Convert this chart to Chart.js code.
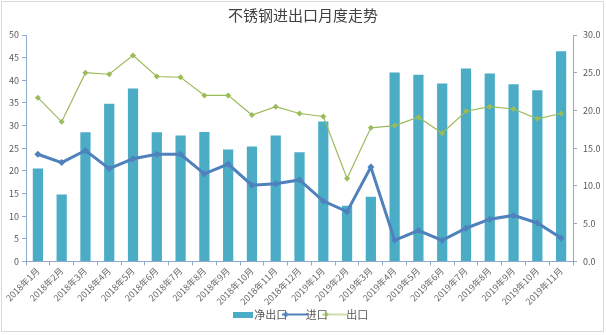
<!DOCTYPE html>
<html>
<head>
<meta charset="utf-8">
<script src="https://cdn.jsdelivr.net/npm/chart.js@4/dist/chart.umd.min.js"></script>
<style>
  html, body { margin: 0; padding: 0; background: #fff; }
  #wrap { position: relative; width: 606px; height: 335px; }
  #frame { position: absolute; left: 1px; top: 1px; width: 601px; height: 329px; border: 1px solid #d9d9d9; pointer-events: none; }
</style>
</head>
<body>
<div id="wrap">
  <canvas id="chart" width="606" height="335"></canvas>
  <div id="frame"></div>
</div>
<script>
// months on the x axis
const months = [
  "2018年1月", "2018年2月", "2018年3月", "2018年4月", "2018年5月", "2018年6月",
  "2018年7月", "2018年8月", "2018年9月", "2018年10月", "2018年11月", "2018年12月",
  "2019年1月", "2019年2月", "2019年3月", "2019年4月", "2019年5月", "2019年6月",
  "2019年7月", "2019年8月", "2019年9月", "2019年10月", "2019年11月"
];

// net export (left axis)
const netExport = [20.5, 14.8, 28.5, 34.8, 38.2, 28.5, 27.8, 28.6, 24.7, 25.4, 27.8, 24.1,
  30.9, 12.3, 14.3, 41.7, 41.2, 39.3, 42.6, 41.5, 39.1, 37.8, 46.4];

// import and export (right axis)
const imports = [14.2, 13.1, 14.7, 12.3, 13.6, 14.2, 14.2, 11.6, 12.9, 10.1, 10.3, 10.8,
  8.0, 6.6, 12.5, 2.8, 4.1, 2.8, 4.4, 5.6, 6.1, 5.1, 3.1];
const exports = [21.7, 18.5, 25.0, 24.8, 27.3, 24.5, 24.4, 22.0, 22.0, 19.4, 20.5, 19.6,
  19.2, 11.0, 17.7, 18.0, 19.1, 17.0, 19.9, 20.5, 20.2, 18.9, 19.6];

const leftTicks = [0, 5, 10, 15, 20, 25, 30, 35, 40, 45, 50];
const rightTicks = [0, 5, 10, 15, 20, 25, 30];

const barColor = "#4bacc6";
const importColor = "#4f81bd";
const exportColor = "#9bbb59";
const axisColor = "#8faacc";
const textColor = "#595959";
const font = "'Noto Sans CJK SC', 'Noto Sans', sans-serif";

// legend swatch: short line with a diamond on it
function lineSwatch(color, lw, size) {
  const c = document.createElement("canvas");
  c.width = 26; c.height = 10;
  const ctx = c.getContext("2d");
  ctx.strokeStyle = color;
  ctx.lineWidth = lw;
  ctx.beginPath(); ctx.moveTo(0, 5); ctx.lineTo(26, 5); ctx.stroke();
  ctx.fillStyle = color;
  ctx.beginPath();
  ctx.moveTo(4, 5 - size); ctx.lineTo(4 + size, 5); ctx.lineTo(4, 5 + size); ctx.lineTo(4 - size, 5);
  ctx.closePath(); ctx.fill();
  return c;
}
function barSwatch(color) {
  const c = document.createElement("canvas");
  c.width = 20; c.height = 6;
  const ctx = c.getContext("2d");
  ctx.fillStyle = color;
  ctx.fillRect(0, 0, 20, 6);
  return c;
}
const swatches = [barSwatch(barColor), lineSwatch(importColor, 2, 3), lineSwatch(exportColor, 1, 2.5)];

new Chart(document.getElementById("chart"), {
  type: "bar",
  data: {
    labels: months,
    datasets: [
      {
        label: "净出口",
        data: netExport,
        backgroundColor: barColor,
        yAxisID: "y",
        categoryPercentage: 1,
        barPercentage: 0.43,
        order: 3
      },
      {
        type: "line",
        label: "进口",
        data: imports,
        borderColor: importColor,
        backgroundColor: importColor,
        borderWidth: 3,
        pointStyle: "rectRot",
        pointRadius: 3.5,
        pointBorderWidth: 0,
        yAxisID: "y1",
        tension: 0,
        order: 1
      },
      {
        type: "line",
        label: "出口",
        data: exports,
        borderColor: exportColor,
        backgroundColor: exportColor,
        borderWidth: 1.2,
        pointStyle: "rectRot",
        pointRadius: 3,
        pointBorderWidth: 0,
        yAxisID: "y1",
        tension: 0,
        order: 2
      }
    ]
  },
  options: {
    responsive: false,
    animation: false,
    layout: { padding: { left: 0, right: 0, top: 0, bottom: 5 } },
    plugins: {
      title: {
        display: true,
        text: "不锈钢进出口月度走势",
        color: "#404040",
        font: { family: font, size: 15, weight: "normal" },
        padding: { top: 6, bottom: 11 }
      },
      legend: {
        position: "bottom",
        labels: {
          color: textColor,
          font: { family: font, size: 11 },
          usePointStyle: true,
          padding: 2,
          generateLabels: (chart) => chart.data.datasets.map((ds, i) => ({
            text: ds.label,
            fontColor: textColor,
            pointStyle: swatches[i],
            datasetIndex: i,
            lineWidth: 0,
            strokeStyle: "transparent",
            fillStyle: "transparent"
          }))
        }
      },
      tooltip: { enabled: false }
    },
    scales: {
      x: {
        offset: true,
        grid: {
          display: true,
          drawOnChartArea: false,
          offset: true,
          color: axisColor,
          tickLength: 4
        },
        border: { color: axisColor },
        ticks: {
          color: "#6a6a6a",
          font: { family: font, size: 9 },
          minRotation: 45,
          maxRotation: 45,
          autoSkip: false,
          padding: 0
        }
      },
      y: {
        position: "left",
        min: 0,
        max: 50,
        afterFit: (s) => { s.width = 26; },
        afterBuildTicks: (s) => { s.ticks = leftTicks.map((v) => ({ value: v })); },
        grid: { drawOnChartArea: false, color: axisColor, tickLength: 4 },
        border: { color: axisColor },
        ticks: { color: textColor, font: { family: font, size: 9 }, padding: 3 }
      },
      y1: {
        position: "right",
        min: 0,
        max: 30,
        afterFit: (s) => { s.width = 33; },
        afterBuildTicks: (s) => { s.ticks = rightTicks.map((v) => ({ value: v })); },
        grid: { drawOnChartArea: false, color: axisColor, tickLength: 4 },
        border: { color: axisColor },
        ticks: {
          color: textColor,
          font: { family: font, size: 9 },
          padding: 6,
          callback: (v) => v.toFixed(1)
        }
      }
    }
  }
});
</script>
</body>
</html>
